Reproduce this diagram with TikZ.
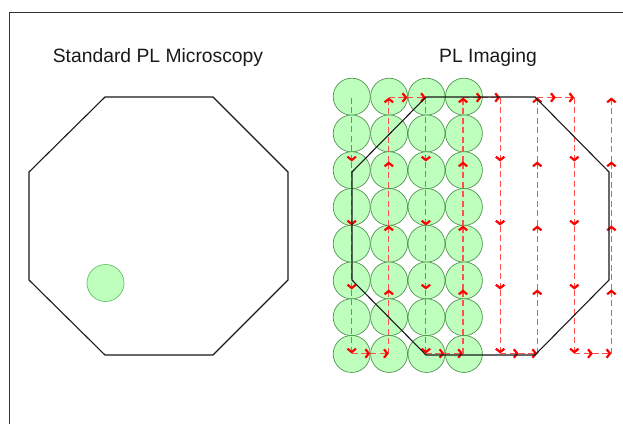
\documentclass[tikz,border=0pt]{standalone}
\usepackage{fontspec}
\setmainfont{Liberation Sans}
\usetikzlibrary{arrows.meta}
\definecolor{circfill}{RGB}{190,255,190}
\definecolor{circedge}{RGB}{80,150,80}
\definecolor{spotedge}{RGB}{100,195,100}
\definecolor{scanred}{RGB}{255,80,80}
\begin{document}
\begin{tikzpicture}[x=1pt,y=-1pt,
  title/.style={font=\fontsize{19.3}{21}\selectfont, text=black!90, anchor=base, inner sep=0pt},
  oct/.style={line width=1.1pt, black!90, line join=miter},
  spot/.style={circle, inner sep=0pt, minimum size=37pt, fill=circfill, draw=circedge, line width=0.7pt},
  bigspot/.style={spot, draw=spotedge},
  scan/.style={scanred, line width=1.1pt, dash pattern=on 6pt off 3.5pt,
    -{Straight Barb[length=3.4pt,width=8.5pt,line width=2.2pt,color=red]}},
]
\useasboundingbox (0,0) rectangle (623,424);
% frame
\draw[black!80, line width=0.8pt] (9.5,424) -- (9.5,12.5) -- (623,12.5);
% titles
\node[title] (t1) at (158,62) {Standard PL Microscopy};
\node[title] (t2) at (488,62) {PL Imaging};
% left octagon and spot
\draw[oct] (105,97) -- (213,97) -- (288,172) -- (288,280) -- (213,355) -- (105,355) -- (29,280) -- (29,172) -- cycle;
\node[bigspot] (spot) at (105.5,283) {};
% grid of spots
\foreach \i in {0,...,3} {
  \foreach \j in {0,...,7} {
    \node[spot] (s-\i-\j) at ({351.7+37.4*\i},{96.7+36.75*\j}) {};
  }
}
% scan coordinates
\foreach \k in {0,...,7} {
  \foreach \j in {0,...,4} {
    \coordinate (g-\k-\j) at ({351.7+37.1*\k},{97.5+64*\j});
  }
}
\foreach \k in {0,...,6} {
  \coordinate (t-\k) at ({351.7+37.1*\k+18.55},97.5);
  \coordinate (b-\k) at ({351.7+37.1*\k+18.55},353.5);
}
% downward columns
\foreach \k [evaluate=\k as \nk using int(\k+1)] in {0,2,4,6} {
  \foreach \j [evaluate=\j as \n using int(\j+1)] in {0,...,3} {
    \draw[scan] (g-\k-\j) -- (g-\k-\n);
  }
  \draw[scan] (g-\k-4) -- (b-\k);
  \draw[scan] (b-\k) -- (g-\nk-4);
}
% upward columns
\foreach \k in {1,3,5,7} {
  \foreach \j [evaluate=\j as \n using int(\j+1)] in {0,...,3} {
    \draw[scan] (g-\k-\n) -- (g-\k-\j);
  }
}
\foreach \k [evaluate=\k as \nk using int(\k+1)] in {1,3,5} {
  \draw[scan] (g-\k-0) -- (t-\k);
  \draw[scan] (t-\k) -- (g-\nk-0);
}
% right octagon
\draw[oct] (426,97) -- (535,97) -- (609,172) -- (609,280) -- (535,355) -- (426,355) -- (352,280) -- (352,172) -- cycle;
\end{tikzpicture}
\end{document}
